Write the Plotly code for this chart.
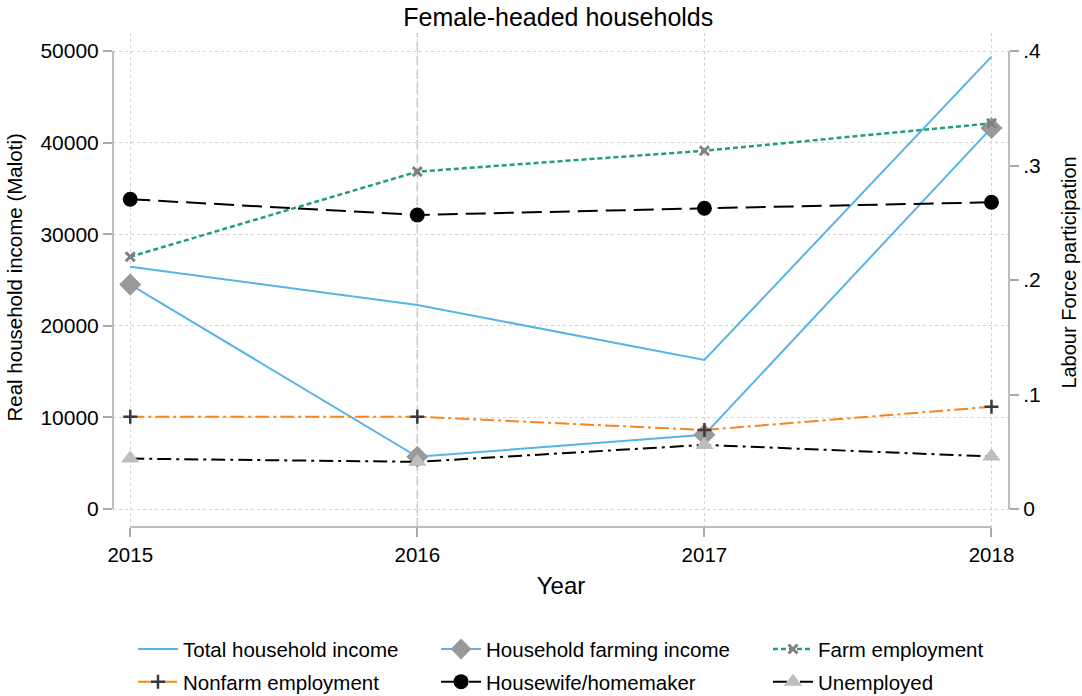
import plotly.graph_objects as go

# Survey years
years = [2015, 2016, 2017, 2018]

# Household income, Maloti (left axis)
total_income = [26450, 22270, 16270, 49380]
farming_income = [24500, 5700, 8100, 41600]

# Labour force participation shares (right axis)
farm_emp = [0.2203, 0.2946, 0.3129, 0.3369]
nonfarm_emp = [0.0806, 0.0806, 0.0690, 0.0893]
housewife = [0.2705, 0.2568, 0.2626, 0.2679]
unemployed = [0.0440, 0.0412, 0.0560, 0.0458]

y_ticks = [0, 10000, 20000, 30000, 40000, 50000]
y_labels = ["0", "10000", "20000", "30000", "40000", "50000"]
y2_ticks = [0, 0.1, 0.2, 0.3, 0.4]
y2_labels = ["0", ".1", ".2", ".3", ".4"]

FONT = "Liberation Sans, Arial, Helvetica, sans-serif"
BLUE = "#56B4E9"
GREEN = "#1FA077"
ORANGE = "#F7861E"
AXIS_GREY = "#A9A9A9"
GRID_GREY = "#D3D3D3"

Y_MIN, Y_MAX = -1965, 51965
SCALE = 125000.0  # income units per participation unit, so both axes share ticks

fig = go.Figure()

# legend columns: legend (left), legend2 (middle), legend3 (right)
fig.add_trace(go.Scatter(
    x=years, y=total_income, name="Total household income", mode="lines",
    line=dict(color=BLUE, width=2), legend="legend", legendgroup="a",
))
fig.add_trace(go.Scatter(
    x=years, y=farming_income, name="Household farming income", mode="lines+markers",
    line=dict(color=BLUE, width=2),
    marker=dict(symbol="diamond", size=17, color="#999999"),
    legend="legend2", legendgroup="b",
))
fig.add_trace(go.Scatter(
    x=years, y=farm_emp, name="Farm employment", mode="lines+markers", yaxis="y2",
    line=dict(color=GREEN, width=2.5, dash="5px,3px"),
    marker=dict(symbol="x-thin", size=9, color="#808080",
                line=dict(color="#808080", width=3)),
    legend="legend3", legendgroup="c",
))
fig.add_trace(go.Scatter(
    x=years, y=nonfarm_emp, name="Nonfarm employment", mode="lines+markers", yaxis="y2",
    line=dict(color=ORANGE, width=2, dash="14px,4px,3px,4px"),
    marker=dict(symbol="cross-thin", size=10, color="#3A3A3A",
                line=dict(color="#3A3A3A", width=2.5)),
    legend="legend", legendgroup="d",
))
fig.add_trace(go.Scatter(
    x=years, y=housewife, name="Housewife/homemaker", mode="lines+markers", yaxis="y2",
    line=dict(color="black", width=2, dash="20px,8px"),
    marker=dict(symbol="circle", size=15, color="black"),
    legend="legend2", legendgroup="e",
))
fig.add_trace(go.Scatter(
    x=years, y=unemployed, name="Unemployed", mode="lines+markers", yaxis="y2",
    line=dict(color="black", width=2, dash="14px,5px,3px,5px"),
    marker=dict(symbol="triangle-up", size=16, color="#BDBDBD"),
    legend="legend3", legendgroup="f",
))

shapes = [
    # reference line at 2016
    dict(type="line", xref="x", yref="paper", x0=2016, x1=2016, y0=0, y1=1,
         line=dict(color="#C4C4C4", width=1.5, dash="9px,5px"), layer="below"),
    # axis lines spanning only the tick range
    dict(type="line", xref="paper", yref="y", x0=0, x1=0, y0=0, y1=50000,
         line=dict(color=AXIS_GREY, width=1.5)),
    dict(type="line", xref="paper", yref="y", x0=1, x1=1, y0=0, y1=50000,
         line=dict(color=AXIS_GREY, width=1.5)),
    dict(type="line", xref="x", yref="paper", x0=2015, x1=2018, y0=0, y1=0,
         line=dict(color=AXIS_GREY, width=1.5)),
]

# vertical axis titles
annotations = [
    dict(text="Real household income (Maloti)", xref="paper", yref="paper",
         x=-0.1094, y=0.505, xanchor="center", yanchor="middle", textangle=-90,
         showarrow=False, font=dict(size=20.5)),
    dict(text="Labour Force participation", xref="paper", yref="paper",
         x=1.0670, y=0.515, xanchor="center", yanchor="middle", textangle=-90,
         showarrow=False, font=dict(size=20)),
]


def legend_column(x):
    return dict(orientation="v", xref="container", yref="container",
                x=x, xanchor="left", y=0.096, yanchor="top",
                font=dict(size=20.5), tracegroupgap=3, itemwidth=40,
                bgcolor="rgba(0,0,0,0)")


fig.update_layout(
    width=1082, height=696,
    margin=dict(l=113, r=73, t=33, b=169, autoexpand=False),
    paper_bgcolor="white", plot_bgcolor="white",
    font=dict(family=FONT, size=21, color="black"),
    title=dict(text="Female-headed households", x=0.516, xanchor="center",
               y=0.975, yanchor="middle", font=dict(size=25)),
    shapes=shapes,
    annotations=annotations,
    showlegend=True,
    legend=legend_column(0.1229),
    legend2=legend_column(0.4030),
    legend3=legend_column(0.7098),
    xaxis=dict(
        range=[2014.940, 2018.061], tickvals=years, ticktext=[str(y) for y in years],
        showline=False, zeroline=False, ticks="outside", ticklen=9,
        tickcolor=AXIS_GREY, tickwidth=1.5,
        showgrid=True, gridcolor=GRID_GREY, griddash="dot", gridwidth=1,
        title=dict(text="Year", font=dict(size=24), standoff=12),
        tickfont=dict(size=20.5),
    ),
    yaxis=dict(
        range=[Y_MIN, Y_MAX], tickvals=y_ticks, ticktext=y_labels,
        showline=False, zeroline=False, ticks="outside", ticklen=9,
        tickcolor=AXIS_GREY, tickwidth=1.5,
        showgrid=True, gridcolor=GRID_GREY, griddash="dot", gridwidth=1,
        tickfont=dict(size=21),
    ),
    yaxis2=dict(
        range=[Y_MIN / SCALE, Y_MAX / SCALE], tickvals=y2_ticks, ticktext=y2_labels,
        overlaying="y", side="right",
        showline=False, zeroline=False, ticks="outside", ticklen=9,
        tickcolor=AXIS_GREY, tickwidth=1.5, showgrid=False,
        tickfont=dict(size=21),
    ),
)

fig.write_html("out.html")
